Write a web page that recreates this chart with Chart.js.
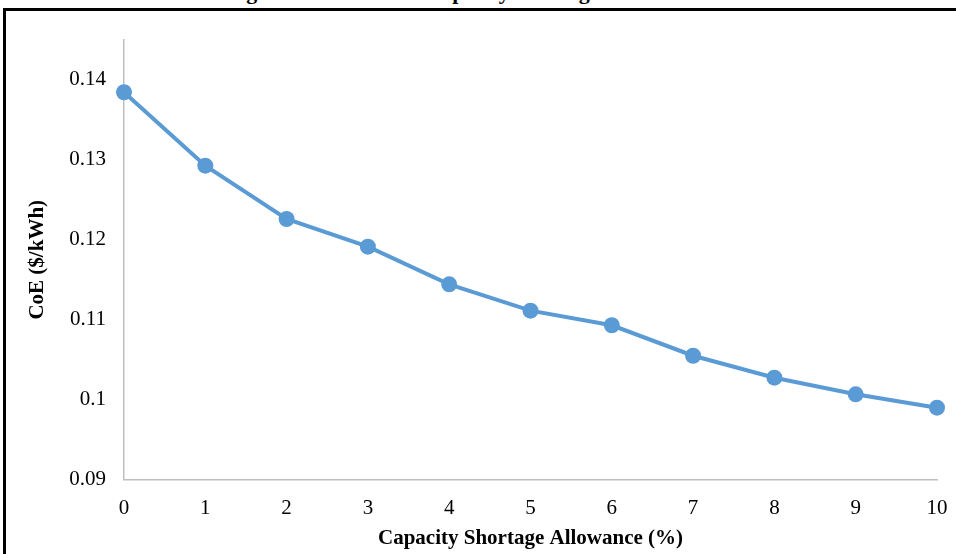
<!DOCTYPE html>
<html>
<head>
<meta charset="utf-8">
<script src="https://cdn.jsdelivr.net/npm/chart.js@4"></script>
<style>
  html, body { margin:0; padding:0; background:#fff; width:956px; height:554px; overflow:hidden; }
  #wrap { position:relative; width:956px; height:554px; }
  #frame { position:absolute; left:3px; top:8px; width:1000px; height:600px; border:3px solid #000; box-sizing:border-box; pointer-events:none; }
  #ttl { position:absolute; left:195px; top:-19px; text-align:left; font:bold 22px "Liberation Serif", serif; line-height:22px; white-space:nowrap; }
  canvas { position:absolute; left:0; top:0; }
</style>
</head>
<body>
<div id="wrap">
  <div id="ttl">Change in CoE with the Capacity Shortage</div>
  <canvas id="c" width="956" height="554"></canvas>
  <div id="frame"></div>
</div>
<script>
const categories = ['0','1','2','3','4','5','6','7','8','9','10'];
const coeValues = [0.13846, 0.12927, 0.12260, 0.11914, 0.11443, 0.11113, 0.10930, 0.10549, 0.10274, 0.10066, 0.09899];
const yMin = 0.09, yMax = 0.145, yStep = 0.01;
const xTitle = 'Capacity Shortage Allowance (%)';
const yTitle = 'CoE ($/kWh)';

const serif = '"Liberation Serif", "Times New Roman", serif';
const blue = '#5B9BD5';
const axisGray = '#BFBFBF';

new Chart(document.getElementById('c'), {
  type: 'line',
  data: {
    labels: categories,
    datasets: [{
      data: coeValues,
      borderColor: blue,
      backgroundColor: blue,
      borderWidth: 4,
      pointRadius: 8,
      pointHoverRadius: 8,
      pointBorderWidth: 0,
      pointBackgroundColor: blue,
      tension: 0,
      clip: false
    }]
  },
  options: {
    responsive: false,
    animation: false,
    devicePixelRatio: 1,
    layout: { padding: { left: 0, right: 19, top: 40, bottom: 0 } },
    plugins: { legend: { display: false }, tooltip: { enabled: false }, title: { display: false } },
    scales: {
      x: {
        type: 'category',
        offset: false,
        grid: { display: true, drawOnChartArea: false, drawTicks: false },
        border: { display: true, color: axisGray, width: 1.5 },
        ticks: { color: '#000', font: { family: serif, size: 21 }, padding: 16, maxRotation: 0, autoSkip: false },
        title: { display: true, text: xTitle, color: '#000', font: { family: serif, size: 21, weight: 'bold' }, padding: { top: 0, bottom: 3 } },
        afterFit: (s) => { s.height = 554 - 479.5; s.paddingLeft = 0; s.paddingRight = 0; }
      },
      y: {
        type: 'linear',
        min: yMin,
        max: yMax,
        grid: { display: true, drawOnChartArea: false, drawTicks: false },
        border: { display: true, color: axisGray, width: 1.5 },
        ticks: {
          stepSize: yStep,
          includeBounds: false,
          color: '#000',
          font: { family: serif, size: 21 },
          padding: 18,
          callback: (v) => String(parseFloat(v.toFixed(2)))
        },
        title: { display: true, text: yTitle, color: '#000', font: { family: serif, size: 21, weight: 'bold' }, padding: { top: 25, bottom: 0 } },
        afterFit: (s) => { s.width = 124; s.paddingTop = 0; s.paddingBottom = 0; }
      }
    }
  }
});
</script>
</body>
</html>
